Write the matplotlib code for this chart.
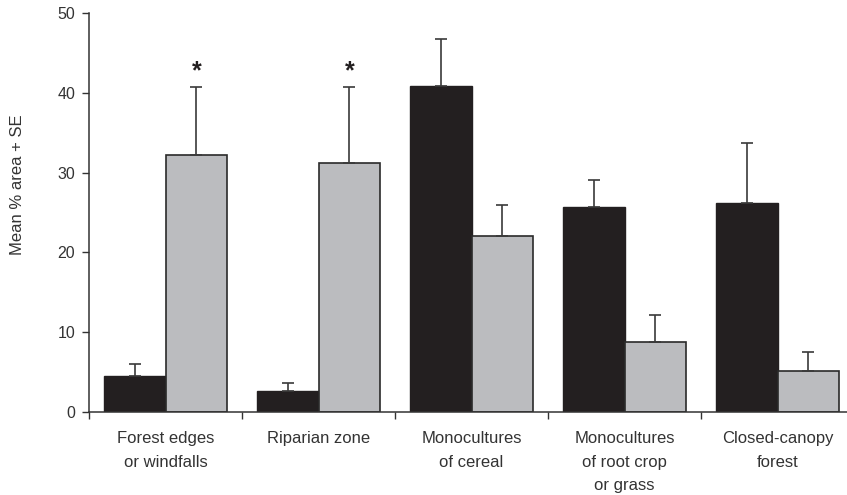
import numpy as np
import matplotlib.pyplot as plt
from matplotlib.ticker import FixedLocator, NullFormatter

# habitat categories and mean % area (+ SE) for the two groups
habitats = ["Forest edges\nor windfalls", "Riparian zone", "Monocultures\nof cereal",
            "Monocultures\nof root crop\nor grass", "Closed-canopy\nforest"]
dark_mean = [4.5, 2.6, 40.8, 25.7, 26.2]
dark_se = [1.5, 1.0, 6.0, 3.4, 7.5]
grey_mean = [32.2, 31.2, 22.0, 8.8, 5.2]
grey_se = [8.5, 9.5, 4.0, 3.4, 2.3]
significant = [True, True, False, False, False]

plt.rcParams['font.family'] = ['Liberation Sans', 'DejaVu Sans']

fig = plt.figure(figsize=(8.47, 4.95), dpi=100)
ax = fig.add_axes([89 / 847, 83 / 495, 765 / 847, 399 / 495])

x = np.arange(len(habitats))
w = 0.405
err_kw = dict(ecolor="#3a3a3a", elinewidth=1.2, capsize=4.5, capthick=1.2)

ax.bar(x - w / 2, dark_mean, w, color="#231f20", edgecolor="#231f20", linewidth=1,
       yerr=[np.zeros(len(x)), dark_se], error_kw=err_kw, zorder=2)
ax.bar(x + w / 2, grey_mean, w, color="#bbbcbf", edgecolor="#2a2a2a", linewidth=1.2,
       yerr=[np.zeros(len(x)), grey_se], error_kw=err_kw, zorder=2)

for i, sig in enumerate(significant):
    if sig:
        ax.text(x[i] + w / 2, grey_mean[i] + grey_se[i] + 2.0, "*", ha="center", va="center",
                fontsize=18, fontweight="bold", color="#231f20")

ax.set_xlim(-0.5, 4.5)
ax.set_ylim(0, 50)
ax.set_yticks([0, 10, 20, 30, 40, 50])
ax.tick_params(axis="y", direction="out", length=5, width=1, labelsize=11.5,
               colors="#333333", pad=5)

# category labels at group centres, tick marks between groups
ax.set_xticks(x)
ax.set_xticklabels(habitats, fontsize=12, color="#333333", linespacing=1.68)
ax.tick_params(axis="x", which="major", length=0, pad=14)
ax.xaxis.set_minor_locator(FixedLocator(np.arange(-0.5, 5, 1.0)))
ax.xaxis.set_minor_formatter(NullFormatter())
ax.tick_params(axis="x", which="minor", direction="out", length=5, width=1, color="#333333")

for side in ["top", "right"]:
    ax.spines[side].set_visible(False)
for side in ["left", "bottom"]:
    ax.spines[side].set_color("#333333")
    ax.spines[side].set_linewidth(1.1)

fig.text(17 / 847, 1 - 185 / 495, "Mean % area + SE", rotation=90, ha="center", va="center",
         fontsize=12, color="#333333")

fig.savefig("out.png", dpi=100)
